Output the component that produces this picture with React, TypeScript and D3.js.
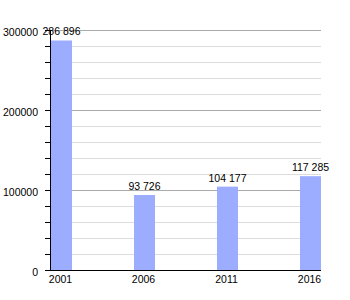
import React from "react";
import * as d3 from "d3";

const years = ["2001", "2006", "2011", "2016"];
const population = [286896, 93726, 104177, 117285];
const valueLabels = ["286 896", "93 726", "104 177", "117 285"];
const majorTicks = [0, 100000, 200000, 300000];

const W = 350;
const H = 300;
const left = 50;
const top = 30;
const bottom = 270;
const barW = 21;

export default function App() {
  const y = d3.scaleLinear().domain([0, 300000]).range([bottom, top]);
  const x = d3.scalePoint<string>().domain(years).range([51, 300]);
  const right = (x(years[years.length - 1]) as number) + barW;
  const minor = d3.range(0, 300001, 20000).filter((v) => v % 100000 !== 0);
  const font = "'Liberation Sans', Arial, sans-serif";
  return (
    <svg width={W} height={H} style={{ position: "absolute", left: 0, top: 0 }} fontFamily={font}>
      <rect x={0} y={0} width={W} height={H} fill="#fff" />
      {minor.map((v) => (
        <line key={"m" + v} x1={left} x2={right} y1={y(v) + 0.5} y2={y(v) + 0.5} stroke="#dcdcdc" />
      ))}
      {majorTicks.map((v) => (
        <line key={"g" + v} x1={left} x2={right} y1={y(v) + 0.5} y2={y(v) + 0.5} stroke="#aaaaaa" />
      ))}
      {d3.range(0, 300001, 20000).map((v) => (
        <line key={"t" + v} x1={left - 5} x2={left} y1={y(v) + 0.5} y2={y(v) + 0.5} stroke="#000" />
      ))}
      {years.map((yr, i) => (
        <rect key={yr} x={x(yr)} y={y(population[i])} width={barW} height={bottom - y(population[i])} fill="#9cadff" />
      ))}
      <line x1={left + 0.5} x2={left + 0.5} y1={top} y2={bottom + 1} stroke="#000" />
      <line x1={left} x2={right} y1={bottom + 0.5} y2={bottom + 0.5} stroke="#000" />
      {majorTicks.map((v) => (
        <text key={"l" + v} x={38} y={y(v) + 5.5} fontSize={10.5} textAnchor="end" fill="#000">
          {String(v)}
        </text>
      ))}
      {years.map((yr, i) => (
        <text key={"x" + yr} x={(x(yr) as number) + barW / 2 - 1} y={283} fontSize={10.5} textAnchor="middle" fill="#000">
          {yr}
        </text>
      ))}
      {years.map((yr, i) => (
        <text key={"v" + yr} x={(x(yr) as number) + barW / 2} y={y(population[i]) - 5} fontSize={10.5} textAnchor="middle" fill="#000">
          {valueLabels[i]}
        </text>
      ))}
    </svg>
  );
}
